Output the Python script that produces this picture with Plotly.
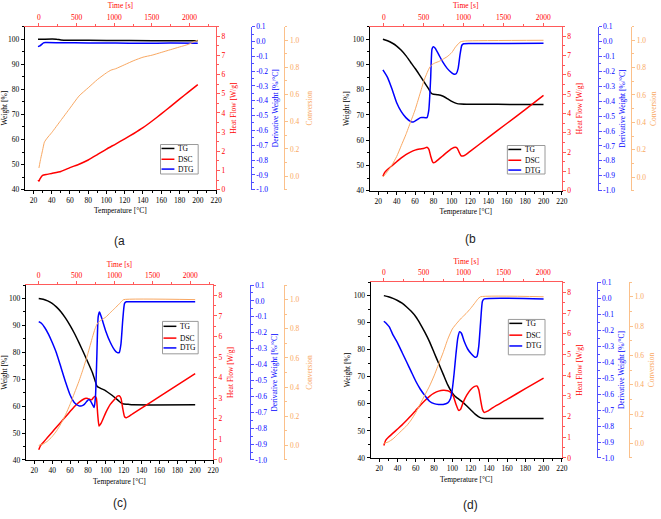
import plotly.graph_objects as go

# ---------------- data ----------------
temp_ticks = [20, 40, 60, 80, 100, 120, 140, 160, 180, 200, 220]
time_ticks = [0, 500, 1000, 1500, 2000]
weight_ticks = [40, 50, 60, 70, 80, 90, 100]
hf_ticks = [0, 1, 2, 3, 4, 5, 6, 7, 8]
dtg_ticks = [-1.0, -0.9, -0.8, -0.7, -0.6, -0.5, -0.4, -0.3, -0.2, -0.1, 0.0, 0.1]
conv_ticks = [0.0, 0.2, 0.4, 0.6, 0.8, 1.0]
panel_labels = ["(a", "(b", "(c)", "(d)"]
series_names = ["TG", "DSC", "DTG"]

# panel (a)
a_tg_T = [25, 30, 45, 50, 60, 100, 150, 200]
a_tg = [100.0, 100.0, 100.0, 99.7, 99.6, 99.5, 99.4, 99.35]
a_dtg_T = [25, 27, 29, 31, 33, 50, 80, 110, 140, 170, 200]
a_dtg = [-0.035, -0.03, -0.02, -0.01, -0.008, -0.009, -0.01, -0.011, -0.012, -0.011, -0.012]
a_dsc_T = [25, 26, 27, 30, 35, 40, 50, 60, 70, 80, 90, 100, 110, 120, 130, 140, 150, 160, 170, 180, 190, 200]
a_dsc = [0.5, 0.45, 0.55, 0.75, 0.8, 0.85, 0.95, 1.15, 1.33, 1.55, 1.83, 2.12, 2.38, 2.65, 2.93, 3.23, 3.58, 3.95, 4.33, 4.72, 5.1, 5.48]
a_conv_T = [26, 28, 30, 32, 35, 40, 50, 60, 70, 80, 90, 100, 105, 110, 120, 130, 140, 150, 160, 170, 180, 190, 196, 200]
a_conv = [0.06, 0.13, 0.19, 0.25, 0.28, 0.32, 0.41, 0.50, 0.59, 0.65, 0.71, 0.76, 0.78, 0.79, 0.82, 0.85, 0.875, 0.89, 0.91, 0.93, 0.95, 0.97, 0.99, 1.0]

# panel (b)
b_tg_T = [25, 30, 35, 40, 45, 50, 55, 60, 65, 70, 75, 77, 78, 80, 85, 90, 95, 100, 105, 110, 120, 150, 200]
b_tg = [100, 99.4, 98.5, 97.3, 95.6, 93.5, 91, 88.5, 85.8, 83, 80.2, 79, 78.5, 78.2, 78, 77.5, 76.5, 75.4, 74.6, 74.3, 74.2, 74.2, 74.1]
b_dtg_T = [25, 30, 35, 40, 45, 50, 55, 58, 62, 66, 70, 73, 75, 77, 78.5, 80, 82, 86, 90, 95, 100, 103, 105, 107, 109, 111, 113, 120, 200]
b_dtg = [-0.19, -0.24, -0.32, -0.41, -0.47, -0.51, -0.535, -0.54, -0.525, -0.51, -0.51, -0.51, -0.46, -0.25, -0.05, -0.035, -0.045, -0.09, -0.135, -0.18, -0.21, -0.22, -0.215, -0.18, -0.09, -0.025, -0.015, -0.013, -0.012]
b_dsc_T = [25, 27, 30, 35, 40, 45, 50, 55, 60, 65, 70, 73, 75, 77, 79, 80, 82, 85, 90, 95, 100, 104, 106, 108, 110, 112, 115, 120, 140, 160, 180, 200]
b_dsc = [0.75, 0.95, 1.1, 1.3, 1.5, 1.7, 1.87, 2.0, 2.1, 2.16, 2.2, 2.25, 2.15, 1.8, 1.5, 1.45, 1.48, 1.6, 1.8, 2.0, 2.18, 2.25, 2.2, 2.0, 1.82, 1.8, 1.86, 2.04, 2.76, 3.48, 4.2, 4.94]
b_conv_T = [25, 30, 35, 40, 45, 50, 55, 60, 65, 70, 75, 78, 82, 86, 90, 95, 100, 104, 108, 110, 115, 200]
b_conv = [0.0, 0.04, 0.09, 0.15, 0.23, 0.31, 0.40, 0.49, 0.60, 0.71, 0.79, 0.82, 0.835, 0.845, 0.86, 0.88, 0.91, 0.95, 0.98, 0.99, 0.995, 1.0]

# panel (c)
c_tg_T = [25, 30, 35, 40, 45, 50, 55, 60, 65, 70, 75, 80, 85, 88, 90, 92, 95, 100, 105, 110, 115, 118, 120, 125, 130, 200]
c_tg = [100, 99.7, 99.1, 98.2, 96.8, 95, 92.7, 90, 87, 83.6, 80, 76.3, 72.5, 69.5, 67.5, 67, 66.5, 65.7, 64.5, 63.2, 61.8, 61, 60.8, 60.7, 60.5, 60.5]
c_dtg_T = [25, 28, 32, 36, 40, 45, 50, 55, 60, 65, 70, 73, 76, 79, 81, 83, 85, 87, 88.5, 90, 91.5, 93, 95, 100, 105, 110, 113, 115, 117, 119, 121, 123, 126, 200]
c_dtg = [-0.13, -0.14, -0.17, -0.21, -0.26, -0.33, -0.42, -0.51, -0.59, -0.64, -0.66, -0.66, -0.65, -0.63, -0.62, -0.63, -0.65, -0.67, -0.6, -0.35, -0.1, -0.07, -0.1, -0.19, -0.26, -0.31, -0.325, -0.325, -0.27, -0.12, -0.015, -0.005, -0.005, -0.005]
c_dsc_T = [25, 27, 30, 35, 40, 45, 50, 55, 60, 65, 70, 75, 78, 80, 82, 84, 86, 88, 89.5, 91, 92.5, 95, 100, 105, 110, 113, 115, 117, 119, 121, 123, 126, 130, 140, 160, 180, 200]
c_dsc = [0.5, 0.7, 0.85, 1.1, 1.35, 1.6, 1.85, 2.1, 2.35, 2.6, 2.8, 2.95, 3.0, 2.98, 2.95, 2.92, 3.02, 3.1, 3.0, 2.2, 1.65, 1.8, 2.3, 2.7, 2.95, 3.1, 3.12, 3.0, 2.5, 2.1, 2.05, 2.12, 2.24, 2.52, 3.08, 3.64, 4.2]
c_conv_T = [25, 30, 35, 40, 45, 50, 55, 60, 65, 70, 75, 80, 85, 88, 91, 95, 100, 105, 110, 115, 118, 120, 200]
c_conv = [0.0, 0.01, 0.03, 0.06, 0.1, 0.15, 0.21, 0.28, 0.36, 0.44, 0.53, 0.63, 0.74, 0.8, 0.84, 0.86, 0.88, 0.91, 0.94, 0.97, 0.99, 1.0, 1.0]

# panel (d)
d_tg_T = [25, 30, 35, 40, 45, 50, 55, 60, 65, 70, 75, 80, 85, 90, 95, 100, 103, 106, 110, 115, 120, 125, 130, 133, 140, 200]
d_tg = [100, 99.6, 99.0, 98.2, 97.2, 95.8, 94.2, 92.2, 89.5, 86.4, 83, 79, 75, 71, 67, 64, 62.8, 62, 61, 59.5, 57.8, 56.2, 55, 54.7, 54.6, 54.6]
d_dtg_T = [25, 28, 31, 35, 40, 45, 50, 55, 60, 65, 70, 75, 80, 85, 90, 95, 98, 100, 102, 104, 106, 108, 110, 113, 117, 121, 125, 127, 129, 131, 133, 135, 200]
d_dtg = [-0.145, -0.16, -0.18, -0.23, -0.28, -0.34, -0.40, -0.46, -0.52, -0.57, -0.61, -0.645, -0.66, -0.665, -0.665, -0.655, -0.63, -0.57, -0.47, -0.35, -0.25, -0.21, -0.22, -0.27, -0.32, -0.35, -0.37, -0.365, -0.3, -0.15, -0.02, -0.005, -0.005]
d_dsc_T = [25, 27, 30, 35, 40, 45, 50, 55, 60, 65, 70, 75, 80, 85, 90, 95, 98, 101, 104, 107, 109, 112, 116, 120, 124, 127, 129, 131, 133, 135, 138, 145, 160, 180, 200]
d_dsc = [0.6, 0.85, 1.0, 1.2, 1.4, 1.6, 1.82, 2.05, 2.3, 2.55, 2.78, 2.98, 3.13, 3.23, 3.27, 3.25, 3.18, 3.0, 2.6, 2.3, 2.35, 2.7, 3.05, 3.3, 3.45, 3.48, 3.3, 2.8, 2.35, 2.2, 2.25, 2.45, 2.83, 3.35, 3.86]
d_conv_T = [25, 30, 35, 40, 45, 50, 55, 60, 65, 70, 75, 80, 85, 90, 95, 100, 105, 110, 115, 120, 125, 128, 131, 200]
d_conv = [0.0, 0.01, 0.03, 0.06, 0.09, 0.12, 0.16, 0.21, 0.27, 0.33, 0.39, 0.46, 0.54, 0.62, 0.71, 0.78, 0.82, 0.855, 0.885, 0.92, 0.96, 0.985, 1.0, 1.0]

panel_data = [
    (a_tg_T, a_tg, a_dsc_T, a_dsc, a_dtg_T, a_dtg, a_conv_T, a_conv),
    (b_tg_T, b_tg, b_dsc_T, b_dsc, b_dtg_T, b_dtg, b_conv_T, b_conv),
    (c_tg_T, c_tg, c_dsc_T, c_dsc, c_dtg_T, c_dtg, c_conv_T, c_conv),
    (d_tg_T, d_tg, d_dsc_T, d_dsc, d_dtg_T, d_dtg, d_conv_T, d_conv),
]

# ---------------- layout geometry (pixels) ----------------
W, H = 661, 519
geom = [
    dict(x0=25, x1=218, y0=23, y1=189, dpos=253, cpos=287, cst=8, trange=[-188, 2352],
         leg=(162, 143, 200, 173), rows=(4, 15, 25), lab=(121, 241)),
    dict(x0=373, x1=567, y0=23, y1=190, dpos=603, cpos=637, cst=5, trange=[-178, 2232],
         leg=(512, 144, 550, 173), rows=(4, 15, 25), lab=(475, 239)),
    dict(x0=26, x1=215, y0=286, y1=464, dpos=252, cpos=287, cst=8, trange=[-170, 2300],
         leg=(164, 323, 200, 356), rows=(5, 17, 27), lab=(121, 508)),
    dict(x0=374, x1=567, y0=283, y1=462, dpos=602, cpos=635, cst=5, trange=[-165, 2232],
         leg=(513, 321, 550, 357), rows=(4, 16, 27), lab=(475, 510)),
]

FONT = "Liberation Serif, DejaVu Serif, serif"
FS = 7.5
BLACK = "#000000"
RED = "#FF0000"
BLUE = "#0000FF"
ORANGE = "#F9A862"
RED_AX = "#FF5A5A"
BLUE_AX = "#5050FF"
ORANGE_AX = "#FBC08A"
series_colors = [BLACK, RED, BLUE]


def ax_key(letter, n):
    return f"{letter}axis" + ("" if n == 1 else str(n))


def ax_ref(letter, n):
    return letter + ("" if n == 1 else str(n))


def tick_style(color, linecolor, ticklen=3):
    return dict(
        showline=True, linecolor=linecolor, linewidth=1,
        ticks="outside", ticklen=ticklen, tickwidth=1, tickcolor=linecolor,
        tickfont=dict(family=FONT, size=FS, color=color),
        showgrid=False, zeroline=False,
    )


fig = go.Figure()
layout = {}
annotations = []
shapes = []

for p, g in enumerate(geom):
    xb, xt = 2 * p + 1, 2 * p + 2
    yw, yh, yd, yc = 4 * p + 1, 4 * p + 2, 4 * p + 3, 4 * p + 4
    tgT, tg, dscT, dsc, dtgT, dtg, cT, cv = panel_data[p]

    fig.add_trace(go.Scatter(x=cT, y=cv, mode="lines", name="Conversion", line=dict(color=ORANGE, width=1, shape="spline", smoothing=0.5),
                             xaxis=ax_ref("x", xb), yaxis=ax_ref("y", yc), showlegend=False, hoverinfo="skip"))
    fig.add_trace(go.Scatter(x=tgT, y=tg, mode="lines", name=series_names[0], line=dict(color=BLACK, width=1.5, shape="spline", smoothing=0.5),
                             xaxis=ax_ref("x", xb), yaxis=ax_ref("y", yw), showlegend=False))
    fig.add_trace(go.Scatter(x=dscT, y=dsc, mode="lines", name=series_names[1], line=dict(color=RED, width=1.5, shape="spline", smoothing=0.5),
                             xaxis=ax_ref("x", xb), yaxis=ax_ref("y", yh), showlegend=False))
    fig.add_trace(go.Scatter(x=dtgT, y=dtg, mode="lines", name=series_names[2], line=dict(color=BLUE, width=1.5, shape="spline", smoothing=0.5),
                             xaxis=ax_ref("x", xb), yaxis=ax_ref("y", yd), showlegend=False))
    # invisible companion on the time axis so that it is drawn
    fig.add_trace(go.Scatter(x=[time_ticks[0]], y=[tg[0]], mode="markers", marker=dict(opacity=0),
                             xaxis=ax_ref("x", xt), yaxis=ax_ref("y", yw), showlegend=False, hoverinfo="skip"))

    xdom = [g["x0"] / W, g["x1"] / W]
    ydom = [1 - g["y1"] / H, 1 - g["y0"] / H]

    layout[ax_key("x", xb)] = dict(
        domain=xdom, anchor=ax_ref("y", yw), range=[10.5, 220], side="bottom",
        tickmode="array", tickvals=temp_ticks,
        minor=dict(tickmode="linear", tick0=10, dtick=20, ticks="outside", ticklen=2, tickcolor=BLACK),
        title=dict(text="Temperature [°C]", font=dict(family=FONT, size=FS, color=BLACK), standoff=4),
        **tick_style(BLACK, BLACK))
    layout[ax_key("x", xt)] = dict(
        overlaying=ax_ref("x", xb), anchor=ax_ref("y", yw), side="top", range=g["trange"],
        tickmode="array", tickvals=time_ticks,
        minor=dict(tickmode="linear", tick0=250, dtick=500, ticks="outside", ticklen=2, tickcolor=RED_AX),
        title=dict(text="Time [s]", font=dict(family=FONT, size=FS, color=RED), standoff=2),
        **tick_style(RED, RED_AX))
    layout[ax_key("y", yw)] = dict(
        domain=ydom, anchor=ax_ref("x", xb), range=[40, 105], side="left",
        tickmode="array", tickvals=weight_ticks,
        minor=dict(tickmode="linear", tick0=45, dtick=10, ticks="outside", ticklen=2, tickcolor=BLACK),
        title=dict(text="Weight [%]", font=dict(family=FONT, size=FS, color=BLACK), standoff=2),
        **tick_style(BLACK, BLACK))
    layout[ax_key("y", yh)] = dict(
        overlaying=ax_ref("y", yw), anchor=ax_ref("x", xb), side="right", range=[0, 8.5],
        tickmode="array", tickvals=hf_ticks,
        minor=dict(tickmode="linear", tick0=0.5, dtick=1, ticks="outside", ticklen=2, tickcolor=RED_AX),
        title=dict(text="Heat Flow [W/g]", font=dict(family=FONT, size=FS, color=RED), standoff=6),
        **tick_style(RED, RED_AX))
    layout[ax_key("y", yd)] = dict(
        overlaying=ax_ref("y", yw), anchor="free", position=g["dpos"] / W, side="right", range=[-1.0, 0.1],
        tickmode="array", tickvals=dtg_ticks, ticktext=[f"{v:.1f}" for v in dtg_ticks],
        minor=dict(tickmode="linear", tick0=0.05, dtick=0.1, ticks="outside", ticklen=2, tickcolor=BLUE_AX),
        title=dict(text="Derivative Weight [%/°C]", font=dict(family=FONT, size=FS, color=BLUE), standoff=5),
        **tick_style(BLUE, BLUE_AX))
    layout[ax_key("y", yc)] = dict(
        overlaying=ax_ref("y", yw), anchor="free", position=g["cpos"] / W, side="right", range=[-0.1, 1.1],
        tickmode="array", tickvals=conv_ticks, ticktext=[f"{v:.1f}" for v in conv_ticks],
        minor=dict(tickmode="linear", tick0=0.1, dtick=0.2, ticks="outside", ticklen=2, tickcolor=ORANGE_AX),
        title=dict(text="Conversion", font=dict(family=FONT, size=FS, color=ORANGE), standoff=g["cst"]),
        **tick_style(ORANGE, ORANGE_AX))

    # legend box drawn by hand (compact, like the reference)
    lx0, ly0, lx1, ly1 = g["leg"]
    shapes.append(dict(type="rect", xref="paper", yref="paper",
                       x0=lx0 / W, x1=lx1 / W, y0=1 - ly1 / H, y1=1 - ly0 / H,
                       line=dict(color="#9a9a9a", width=1), fillcolor="white", layer="above"))
    for k, off in enumerate(g["rows"]):
        yy = 1 - (ly0 + off) / H
        shapes.append(dict(type="line", xref="paper", yref="paper",
                           x0=(lx0 + 1) / W, x1=(lx0 + 14) / W, y0=yy, y1=yy,
                           line=dict(color=series_colors[k], width=1.5), layer="above"))
        annotations.append(dict(x=(lx0 + 16) / W, y=yy, xref="paper", yref="paper",
                                text=series_names[k], showarrow=False, xanchor="left", yanchor="middle",
                                font=dict(family=FONT, size=FS, color=BLACK)))

    annotations.append(dict(
        x=g["lab"][0] / W, y=1 - g["lab"][1] / H, xref="paper", yref="paper",
        text=panel_labels[p], showarrow=False, xanchor="center", yanchor="middle",
        font=dict(family="Liberation Sans", size=12, color="#222222"),
    ))

fig.update_layout(
    width=W, height=H, margin=dict(l=0, r=0, t=0, b=0),
    paper_bgcolor="white", plot_bgcolor="white", showlegend=False,
    annotations=annotations, shapes=shapes, **layout,
)

fig.write_html("out.html", config={"displayModeBar": False},
               post_script="document.body.style.margin='0';document.body.style.overflow='hidden';")
